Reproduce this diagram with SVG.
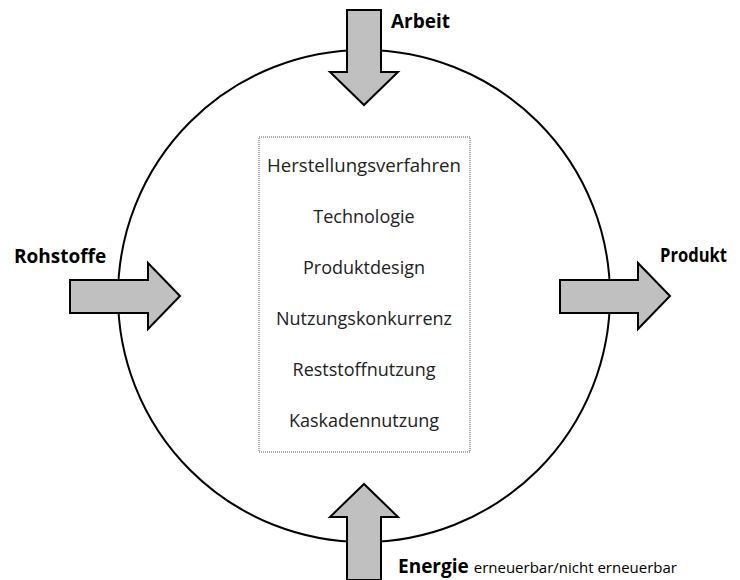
<svg xmlns="http://www.w3.org/2000/svg" width="740" height="580" viewBox="0 0 740 580">
<style>
.arrow{fill:#c0c0c0;stroke:#000;stroke-width:2;stroke-linejoin:miter}
.lbl{font-family:"Open Sans","Liberation Sans",sans-serif;font-weight:bold;font-size:19px;fill:#000}
.item{font-family:"Open Sans","Liberation Sans",sans-serif;font-size:18px;fill:#222;text-anchor:middle}
.small{font-family:"Open Sans","Liberation Sans",sans-serif;font-size:15px;fill:#000}
</style>
<rect width="740" height="580" fill="#fff"/>
<g id="process">
<circle cx="364" cy="296" r="246" fill="none" stroke="#000" stroke-width="2"/>
<rect x="259" y="137" width="211" height="315" fill="none" stroke="#555" stroke-width="1" stroke-dasharray="1,1"/>
<text class="item" x="364" y="172" textLength="194" lengthAdjust="spacingAndGlyphs">Herstellungsverfahren</text>
<text class="item" x="364" y="223">Technologie</text>
<text class="item" x="364" y="274">Produktdesign</text>
<text class="item" x="364" y="325">Nutzungskonkurrenz</text>
<text class="item" x="364" y="376">Reststoffnutzung</text>
<text class="item" x="364" y="427">Kaskadennutzung</text>
</g>
<g id="connectors">
<g id="arbeit">
<polygon class="arrow" points="347,10 381,10 381,72 398,72 364,105 330,72 347,72"/>
<text class="lbl" x="391" y="28">Arbeit</text>
</g>
<g id="rohstoffe">
<polygon class="arrow" points="70,280 148,280 148,263 180,296 148,329 148,313 70,313"/>
<text class="lbl" x="14" y="263">Rohstoffe</text>
</g>
<g id="produkt">
<polygon class="arrow" points="560,280 638,280 638,263 670,296 638,329 638,313 560,313"/>
<text class="lbl" x="660" y="262" textLength="67" lengthAdjust="spacingAndGlyphs">Produkt</text>
</g>
<g id="energie">
<polygon class="arrow" points="347,580 347,517 330,517 364,484 398,517 381,517 381,580"/>
<text x="398" y="573"><tspan class="lbl">Energie</tspan><tspan class="small" dx="5">erneuerbar/nicht erneuerbar</tspan></text>
</g>
</g>
</svg>
